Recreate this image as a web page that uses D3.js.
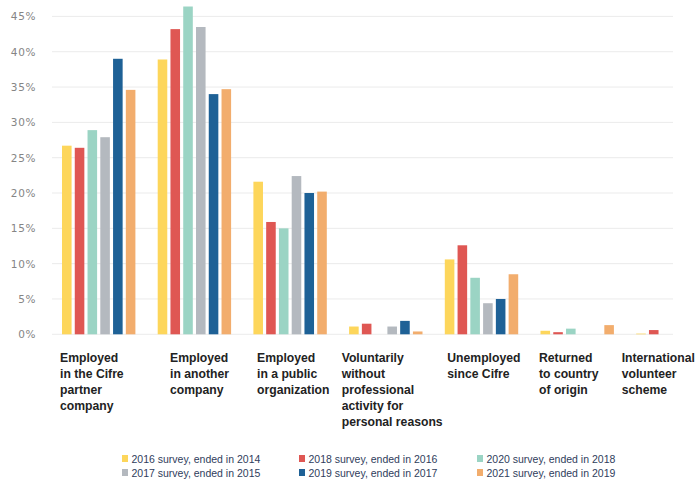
<!DOCTYPE html>
<html>
<head>
<meta charset="utf-8">
<script src="https://cdn.jsdelivr.net/npm/d3@7"></script>
<style>
  html, body { margin: 0; padding: 0; background: #ffffff; }
  svg { display: block; }
</style>
</head>
<body>
<svg id="chart" width="699" height="480"></svg>
<script>
// ---- data ----
const categories = [
  ["Employed", "in the Cifre", "partner", "company"],
  ["Employed", "in another", "company"],
  ["Employed", "in a public", "organization"],
  ["Voluntarily", "without", "professional", "activity for", "personal reasons"],
  ["Unemployed", "since Cifre"],
  ["Returned", "to country", "of origin"],
  ["International", "volunteer", "scheme"]
];
const seriesNames = [
  "2016 survey, ended in 2014",
  "2018 survey, ended in 2016",
  "2020 survey, ended in 2018",
  "2017 survey, ended in 2015",
  "2019 survey, ended in 2017",
  "2021 survey, ended in 2019"
];
// values in % per series, one entry per category
const s2016 = [26.7, 38.9, 21.6, 1.1, 10.6, 0.5, 0.1];
const s2018 = [26.4, 43.2, 15.9, 1.5, 12.6, 0.3, 0.6];
const s2020 = [28.9, 46.4, 15.0, 0.0, 8.0, 0.8, 0.0];
const s2017 = [27.9, 43.5, 22.4, 1.1, 4.4, 0.0, 0.0];
const s2019 = [39.0, 34.0, 20.0, 1.9, 5.0, 0.0, 0.0];
const s2021 = [34.6, 34.7, 20.2, 0.4, 8.5, 1.3, 0.0];
const seriesValues = [s2016, s2018, s2020, s2017, s2019, s2021];
const yTicks = [0, 5, 10, 15, 20, 25, 30, 35, 40, 45];

// ---- style / layout ----
const colors = ["#fdd65b", "#df5753", "#9bd4c4", "#b4b9bf", "#1e6196", "#f2ad6d"];
const labelNudge = [-2, 12.3, 3.6, -7.4, 2.5, -1.5, -14.5];
const legendCols = [122, 299, 477];
const legendRows = [459, 473];

const svg = d3.select("#chart");
const catKeys = categories.map((c, i) => "c" + i);

const x0 = d3.scaleBand()
  .domain(catKeys)
  .range([62, 62 + 95.7 * (7 - 0.233)])
  .paddingInner(0.233)
  .paddingOuter(0);

const x1 = d3.scaleBand()
  .domain(seriesNames)
  .range([0, x0.bandwidth()])
  .paddingInner(0.25)
  .paddingOuter(0);

const y = d3.scaleLinear().domain([0, 45]).range([334.3, 16.4]);

// gridlines
svg.append("g")
  .selectAll("line")
  .data(yTicks)
  .join("line")
  .attr("x1", 52).attr("x2", 673)
  .attr("y1", d => y(d)).attr("y2", d => y(d))
  .attr("stroke", "#ebebeb")
  .attr("stroke-width", 1);

// y axis labels
const yAxis = d3.axisLeft(y).tickValues(yTicks).tickSize(0).tickPadding(0)
  .tickFormat(d => d + "%");
const yg = svg.append("g").attr("transform", "translate(36,0)").call(yAxis);
yg.select(".domain").remove();
yg.selectAll("text")
  .attr("font-family", "DejaVu Sans, sans-serif")
  .attr("font-size", 10.5)
  .attr("letter-spacing", "0.6px")
  .attr("fill", "#858585");

// bars
const groups = svg.append("g")
  .selectAll("g")
  .data(catKeys)
  .join("g")
  .attr("transform", d => `translate(${x0(d)},0)`);

groups.selectAll("rect")
  .data((d, ci) => seriesNames.map((s, si) => ({ s, si, v: seriesValues[si][ci] })))
  .join("rect")
  .attr("x", d => x1(d.s))
  .attr("width", x1.bandwidth())
  .attr("y", d => y(d.v))
  .attr("height", d => y(0) - y(d.v))
  .attr("fill", d => colors[d.si]);

// category labels
const catLabels = svg.append("g")
  .selectAll("text")
  .data(categories)
  .join("text")
  .attr("font-family", "Liberation Sans, Arial, sans-serif")
  .attr("font-weight", "bold")
  .attr("font-size", 12.2)
  .attr("fill", "#222222")
  .attr("y", 361.7);
catLabels.each(function (lines, i) {
  const t = d3.select(this);
  const xx = x0(catKeys[i]) + labelNudge[i];
  lines.forEach((ln, j) => {
    t.append("tspan").attr("x", xx).attr("dy", j === 0 ? 0 : 16).text(ln);
  });
});

// legend
const legend = svg.append("g")
  .selectAll("g")
  .data(seriesNames)
  .join("g")
  .attr("transform", (d, i) => `translate(${legendCols[i % 3]},${legendRows[Math.floor(i / 3)]})`);
legend.append("rect")
  .attr("x", 0).attr("y", -4)
  .attr("width", 6).attr("height", 7)
  .attr("fill", (d, i) => colors[i]);
legend.append("text")
  .attr("x", 9.5).attr("y", 0)
  .attr("dy", "0.35em")
  .attr("font-family", "Liberation Sans, Arial, sans-serif")
  .attr("font-size", 10.5)
  .attr("fill", "#2f3d5c")
  .text(d => d);
</script>
</body>
</html>
